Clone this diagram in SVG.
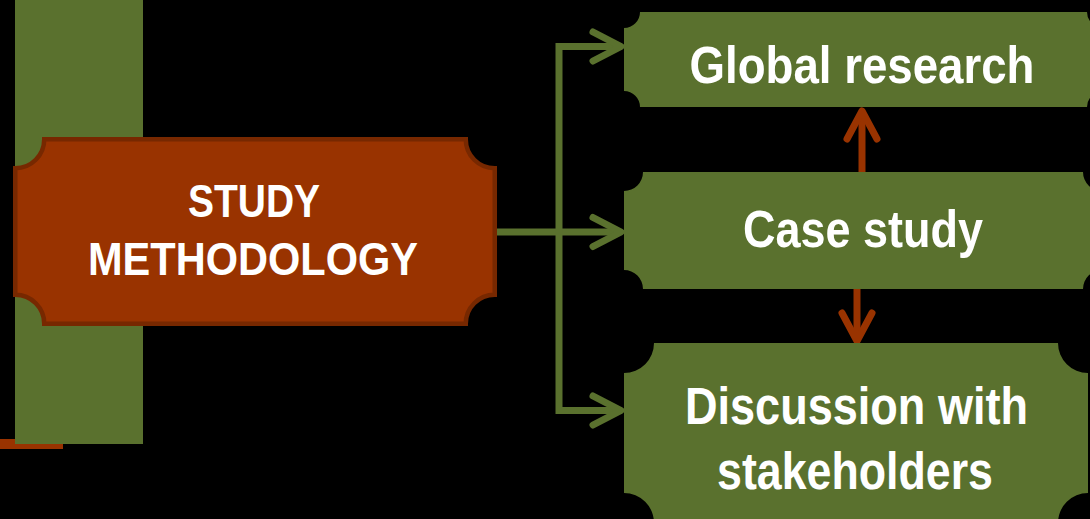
<svg xmlns="http://www.w3.org/2000/svg" width="1090" height="519" viewBox="0 0 1090 519">
<defs>
<style>
.lbl{font-family:"Liberation Sans",Arial,sans-serif;font-weight:bold;fill:#ffffff;text-anchor:middle;lengthAdjust:spacingAndGlyphs}
.gnode{fill:#5A712E}
.gline{fill:none;stroke:#5A712E;stroke-width:7;stroke-linejoin:miter}
.ghead{fill:none;stroke:#5A712E;stroke-width:7;stroke-linecap:round;stroke-linejoin:round}
.oline{fill:none;stroke:#993300;stroke-width:7}
.ohead{fill:none;stroke:#993300;stroke-width:7;stroke-linecap:round;stroke-linejoin:round}
</style>
</defs>
<rect x="0" y="0" width="1090" height="519" fill="#000000"/>
<g id="decor">
<rect x="0" y="439" width="63" height="10" fill="#993300"/>
<rect x="15" y="0" width="128" height="444" fill="#5A712E"/>
</g>
<g id="connectors">
<path class="gline" d="M497 232 H620"/>
<path class="gline" d="M620 46.5 H559 V410.5 H620"/>
<path class="ghead" d="M593 32 L621 46.5 L593 61"/>
<path class="ghead" d="M593 217.5 L621 232 L593 246.5"/>
<path class="ghead" d="M593 396 L621 410.5 L593 425"/>
<path class="oline" d="M862 172 V112"/>
<path class="ohead" d="M847 139 L862 111 L877 139"/>
<path class="oline" d="M857 289 V339"/>
<path class="ohead" d="M842 313 L857 341 L872 313"/>
</g>
<g id="node-study">
<path d="M44.25 139.25 H465.75 A29 29 0 0 0 494.75 168.25 V294.75 A29 29 0 0 0 465.75 323.75 H44.25 A29 29 0 0 0 15.25 294.75 V168.25 A29 29 0 0 0 44.25 139.25 Z" fill="#993300" stroke="#772800" stroke-width="4.5"/>
<text class="lbl" x="254" y="217" font-size="47" textLength="132" lengthAdjust="spacingAndGlyphs">STUDY</text>
<text class="lbl" x="253" y="275" font-size="47" textLength="330" lengthAdjust="spacingAndGlyphs">METHODOLOGY</text>
</g>
<g id="node-global">
<path class="gnode" d="M640 12 H1087 A16 16 0 0 0 1103 28 V91 A16 16 0 0 0 1087 107 H640 A16 16 0 0 0 624 91 V28 A16 16 0 0 0 640 12 Z"/>
<text class="lbl" x="862" y="83" font-size="52" textLength="345" lengthAdjust="spacingAndGlyphs">Global research</text>
</g>
<g id="node-case">
<path class="gnode" d="M643 172 H1083 A19 19 0 0 0 1102 191 V270 A19 19 0 0 0 1083 289 H643 A19 19 0 0 0 624 270 V191 A19 19 0 0 0 643 172 Z"/>
<text class="lbl" x="863" y="247" font-size="52" textLength="240" lengthAdjust="spacingAndGlyphs">Case study</text>
</g>
<g id="node-discussion">
<path class="gnode" d="M654 343 H1058 A30 30 0 0 0 1088 373 V493 A30 30 0 0 0 1058 523 H654 A30 30 0 0 0 624 493 V373 A30 30 0 0 0 654 343 Z"/>
<text class="lbl" x="856.5" y="424" font-size="51" textLength="343" lengthAdjust="spacingAndGlyphs">Discussion with</text>
<text class="lbl" x="855" y="489" font-size="51" textLength="276" lengthAdjust="spacingAndGlyphs">stakeholders</text>
</g>
</svg>
